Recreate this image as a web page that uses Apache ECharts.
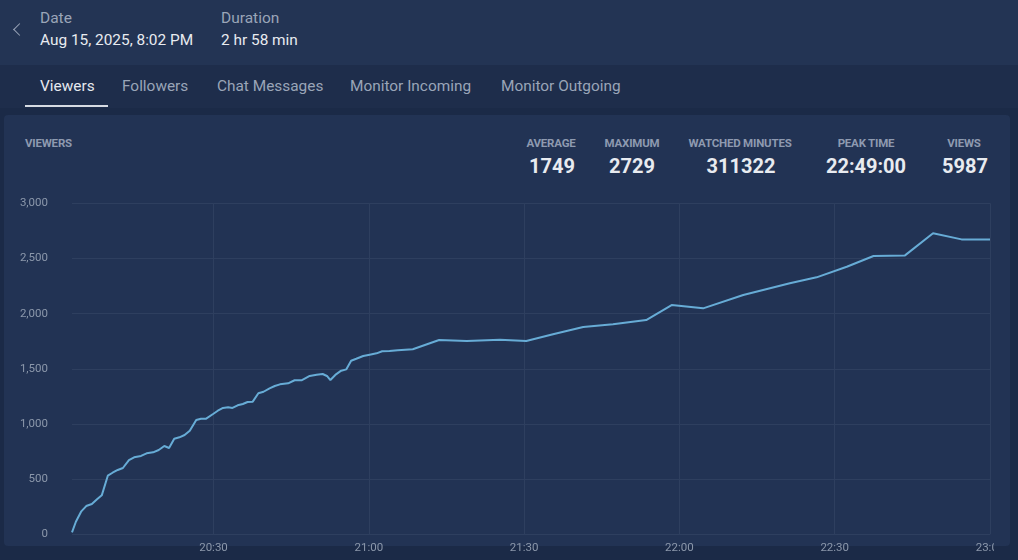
<!DOCTYPE html>
<html>
<head>
<meta charset="utf-8">
<script src="https://cdn.jsdelivr.net/npm/echarts@6/dist/echarts.min.js"></script>
<style>
  html, body { margin:0; padding:0; width:1018px; height:560px; overflow:hidden; background:#1b2a47; font-family: Roboto, "Noto Sans", sans-serif; }
  .abs { position:absolute; white-space:nowrap; }
  #header { position:absolute; left:0; top:0; width:1018px; height:65px; background:#233454; }
  #tabs { position:absolute; left:0; top:65px; width:1018px; height:43px; background:#1e2d4b; }
  #panel { position:absolute; left:4px; top:115px; width:1006px; height:431px; background:#223354; border-radius:4px; }
  .lbl { color:#9aa5b8; font-size:15.5px; }
  .val { color:#e8ebf0; font-size:15.4px; }
  .tab { color:#9aa5b8; font-size:15.4px; top:77px; }
  .tab.active { color:#e6e9ef; }
  .slbl { color:#8e9ab0; font-size:11.5px; font-weight:700; width:140px; text-align:center; top:136px; letter-spacing:-0.2px; }
  .sval { color:#e8ebf0; font-size:20px; font-weight:700; width:140px; text-align:center; top:154px; }
  #chev { position:absolute; left:15px; top:25px; width:8px; height:8px; border-left:1.5px solid #9aa5b8; border-bottom:1.5px solid #9aa5b8; transform:rotate(45deg); }
  #chart { position:absolute; left:0; top:190px; width:994px; height:370px; }
</style>
</head>
<body>
<div id="header"></div>
<div id="tabs"></div>
<div id="panel"></div>
<div id="chev"></div>
<div class="abs lbl" style="left:40px; top:9px;">Date</div>
<div class="abs val" style="left:40px; top:31px;">Aug 15, 2025, 8:02 PM</div>
<div class="abs lbl" style="left:221px; top:9px;">Duration</div>
<div class="abs val" style="left:221px; top:31px;">2 hr 58 min</div>

<div class="abs tab active" style="left:40px;">Viewers</div>
<div class="abs" style="left:25px; top:105px; width:83px; height:2px; background:#d6dbe3;"></div>
<div class="abs tab" style="left:122px;">Followers</div>
<div class="abs tab" style="left:217px;">Chat Messages</div>
<div class="abs tab" style="left:350px;">Monitor Incoming</div>
<div class="abs tab" style="left:501px;">Monitor Outgoing</div>

<div class="abs slbl" style="left:25px; width:auto; text-align:left;">VIEWERS</div>
<div class="abs slbl" style="left:481px;">AVERAGE</div>
<div class="abs sval" style="left:482px;">1749</div>
<div class="abs slbl" style="left:562px;">MAXIMUM</div>
<div class="abs sval" style="left:562px;">2729</div>
<div class="abs slbl" style="left:670px;">WATCHED MINUTES</div>
<div class="abs sval" style="left:671px;">311322</div>
<div class="abs slbl" style="left:796px;">PEAK TIME</div>
<div class="abs sval" style="left:796px;">22:49:00</div>
<div class="abs slbl" style="left:894px;">VIEWS</div>
<div class="abs sval" style="left:895px;">5987</div>

<div id="chart"></div>
<script>
const baseDate = '2025-08-15';
const times = [
  '20:02:40','20:03:25','20:04:25','20:05:25','20:06:30','20:07:30','20:08:25','20:09:35','20:10:30','20:11:30',
  '20:12:30','20:13:40','20:14:40','20:16:00','20:17:05','20:18:20','20:19:25','20:20:30','20:21:25','20:22:25',
  '20:23:25','20:24:25','20:25:25','20:26:40','20:27:35','20:28:35','20:29:55','20:30:50','20:31:50','20:32:50',
  '20:33:40','20:34:40','20:35:40','20:36:35','20:37:35','20:38:40','20:39:40','20:40:50','20:41:50','20:42:50',
  '20:44:25','20:45:40','20:47:00','20:48:35','20:49:55','20:51:05','20:51:55','20:52:35','20:53:40','20:54:40',
  '20:55:40','20:56:35','20:57:35','20:58:55','21:00:10','21:01:30','21:02:35','21:04:00','21:05:35','21:08:30',
  '21:13:35','21:18:55','21:25:20','21:30:25','21:35:35','21:41:25','21:47:10','21:53:35','21:58:30','22:04:35',
  '22:12:20','22:21:20','22:26:30','22:32:20','22:37:30','22:43:35','22:49:00','22:54:30','23:00:00'
];
const viewers = [
  18,114,205,256,275,317,353,531,558,583,
  601,673,698,710,734,743,764,800,782,866,
  879,900,939,1036,1048,1048,1090,1120,1145,1151,
  1145,1169,1181,1199,1202,1278,1292,1323,1344,1359,
  1368,1396,1396,1435,1446,1453,1435,1398,1450,1483,
  1495,1573,1591,1616,1628,1640,1659,1661,1668,1677,
  1761,1752,1764,1752,1813,1879,1903,1942,2078,2048,
  2169,2275,2329,2425,2522,2528,2729,2673,2673
];
const xTicks = ['20:30','21:00','21:30','22:00','22:30','23:00'];
const yMin = 0, yMax = 3000, yInterval = 500;

const ts = s => echarts.time.parse(baseDate + ' ' + s).getTime();
const seriesData = times.map((t, i) => [ts(t), viewers[i]]);
const tickValues = xTicks.map(t => ts(t + ':00'));
const gridColor = '#2e3f5f';

const chart = echarts.init(document.getElementById('chart'), null, { renderer: 'canvas' });
chart.setOption({
  animation: false,
  backgroundColor: 'transparent',
  grid: { left: 72, right: 4, top: 13.3, bottom: 25.7, containLabel: false, outerBoundsMode: 'none' },
  xAxis: {
    type: 'time',
    min: ts(times[0]),
    max: ts(times[times.length - 1]),
    axisLine: { show: false },
    axisTick: { show: false },
    splitLine: { show: false },
    axisLabel: {
      customValues: tickValues,
      formatter: '{HH}:{mm}',
      color: '#8c98ab',
      fontSize: 11.5,
      fontFamily: 'Roboto',
      margin: 8,
      hideOverlap: false,
      alignMaxLabel: 'center',
      alignMinLabel: 'center'
    }
  },
  yAxis: {
    type: 'value',
    min: yMin, max: yMax, interval: yInterval,
    axisLine: { show: false },
    axisTick: { show: false },
    splitLine: { show: true, lineStyle: { color: gridColor, width: 1 } },
    axisLabel: { color: '#8c98ab', fontSize: 11.5, fontFamily: 'Roboto', margin: 24 }
  },
  series: [{
    type: 'line',
    z: 3,
    data: seriesData,
    showSymbol: false,
    symbol: 'none',
    lineStyle: { color: '#67acd6', width: 2 },
    itemStyle: { color: '#67acd6' },
    markLine: {
      z: 1,
      silent: true,
      animation: false,
      symbol: ['none', 'none'],
      label: { show: false },
      emphasis: { disabled: true },
      lineStyle: { color: gridColor, width: 1, type: 'solid' },
      data: tickValues.map(v => ({ xAxis: v }))
    }
  }]
});
</script>
</body>
</html>
